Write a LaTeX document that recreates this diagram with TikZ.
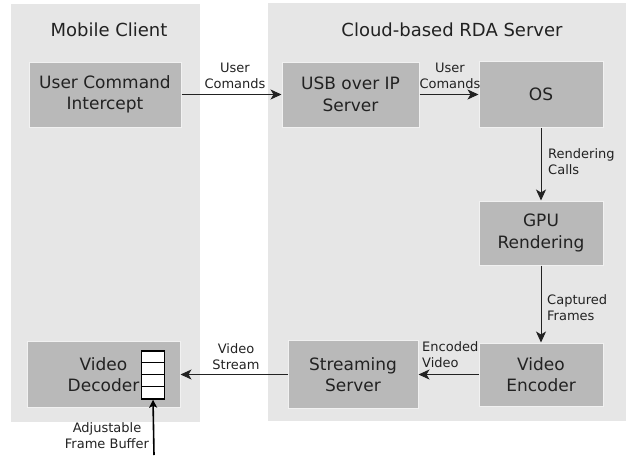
\documentclass[tikz,border=0pt]{standalone}
\usepackage{fontspec}
\setmainfont{DejaVu Sans}
\usetikzlibrary{arrows.meta}

\definecolor{panelgray}{HTML}{E6E6E6}
\definecolor{blockgray}{HTML}{B9B9B9}
\definecolor{inkgray}{HTML}{222222}

\tikzset{
  panel/.style={fill=panelgray, draw=none, inner sep=0},
  title/.style={text=inkgray, inner sep=0, anchor=base, font=\fontsize{18}{22}\selectfont},
  block/.style={fill=blockgray, draw=white!80!blockgray, line width=1pt, align=center, text=inkgray, inner sep=0, font=\fontsize{17}{21.5}\selectfont},
  lbl/.style={align=center, text=inkgray, inner sep=0, font=\fontsize{13}{16}\selectfont},
  flow/.style={-{Stealth[length=11pt,width=10pt,inset=3pt]}, line width=1pt, draw=inkgray},
}

\begin{document}
\begin{tikzpicture}[x=1pt, y=-1pt]
\useasboundingbox (0,0) rectangle (626,455);

% the two sides
\node (client) [panel, minimum width=189pt, minimum height=418pt] at (105.5,213) {};
\node (cloud) [panel, minimum width=358pt, minimum height=418pt] at (447,212) {};
\node (clienttitle) [title] at (109,36) {Mobile Client};
\node (cloudtitle) [title] at (452,36) {Cloud-based RDA Server};

% blocks
\node (intercept) [block, minimum width=152pt, minimum height=65pt] at (105,94.5) {User Command\\Intercept};
\node (usbip) [block, minimum width=137pt, minimum height=65pt] at (350.5,94.5) {USB over IP\\Server};
\node (os) [block, minimum width=124pt, minimum height=66pt] at (541,94.5) {OS};
\node (gpu) [block, minimum width=124pt, minimum height=64pt] at (541,233) {GPU\\Rendering};
\node (encoder) [block, minimum width=124pt, minimum height=63pt] at (541,374.5) {Video\\Encoder};
\node (streaming) [block, minimum width=130pt, minimum height=68pt] at (353,374.5) {Streaming\\Server};
\node (decoder) [block, minimum width=153pt, minimum height=66pt] at (103.5,374.5) {Video\\Decoder};

% frame buffer inside the decoder
\node (buffer) [draw=black, fill=white, line width=1.5pt, minimum width=23pt, minimum height=48pt, inner sep=0] at (153,375) {};
\foreach \k in {1,2,3}
  \draw [line width=1.5pt] ([yshift=-\k*12pt]buffer.north west) -- ([yshift=-\k*12pt]buffer.north east);
\coordinate (feed) at (154,455);

% data flow
\draw [flow] (intercept) -- (usbip);
\draw [flow] (usbip) -- (os);
\draw [flow] (os) -- (gpu);
\draw [flow] (gpu) -- (encoder);
\draw [flow] (encoder) -- (streaming);
\draw [flow] (streaming) -- (decoder);
\draw [-{Stealth[length=8pt,width=8pt,inset=2pt]}, line width=1.6pt, draw=black] (feed) -- (buffer.south);

% labels
\node (cmd1) [lbl] at (235,76) {User\\Comands};
\node (cmd2) [lbl] at (450,76) {User\\Comands};
\node (calls) [lbl, align=left, anchor=west] at (548,162) {Rendering\\Calls};
\node (frames) [lbl, align=left, anchor=west] at (547,308) {Captured\\Frames};
\node (encvid) [lbl, align=left, anchor=west] at (422,355) {Encoded\\Video};
\node (stream) [lbl] at (236,357) {Video\\Stream};
\node (adjbuf) [lbl] at (107,436) {Adjustable\\Frame Buffer};
\end{tikzpicture}
\end{document}
